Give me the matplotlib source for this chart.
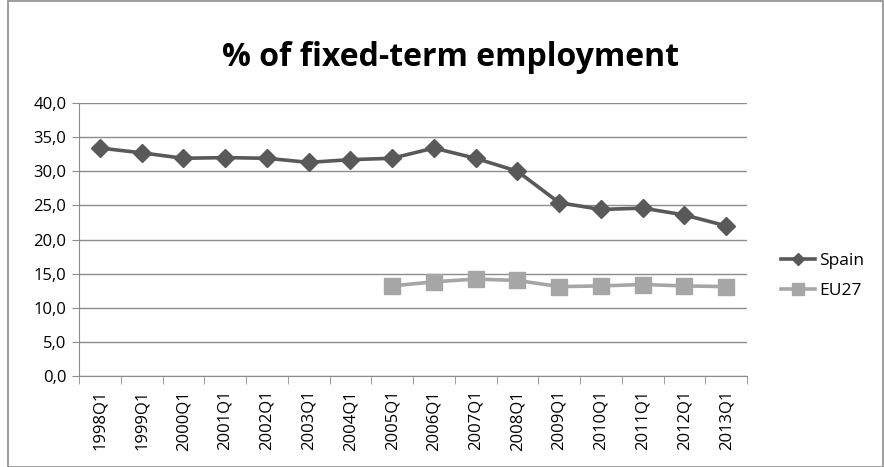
import matplotlib
matplotlib.use("Agg")
import matplotlib.pyplot as plt
from matplotlib.lines import Line2D
from matplotlib.patches import Rectangle
import numpy as np

categories = ["1998Q1", "1999Q1", "2000Q1", "2001Q1", "2002Q1", "2003Q1", "2004Q1", "2005Q1",
              "2006Q1", "2007Q1", "2008Q1", "2009Q1", "2010Q1", "2011Q1", "2012Q1", "2013Q1"]
spain = [33.4, 32.7, 31.9, 32.0, 31.9, 31.3, 31.7, 31.9, 33.4, 31.9, 30.0, 25.4, 24.4, 24.6, 23.6, 22.0]
eu27 = [None] * 7 + [13.2, 13.8, 14.2, 14.0, 13.1, 13.2, 13.4, 13.2, 13.1]
yticks = [0, 5, 10, 15, 20, 25, 30, 35, 40]

plt.rcParams['font.family'] = ['Open Sans', 'DejaVu Sans']
fig = plt.figure(figsize=(8.84, 4.67), dpi=100)
ax = fig.add_axes([79/884, 1-376/467, (747-79)/884, (376-103)/467])

x = np.arange(len(categories))
eu = np.array([np.nan if v is None else v for v in eu27])
ax.plot(x, spain, color="#595959", lw=2.6, marker="D", ms=9, label="Spain", zorder=3)
ax.plot(x, eu, color="#A6A6A6", lw=2.6, marker="s", ms=11, label="EU27", zorder=3)

ax.set_xlim(-0.5, len(categories) - 0.5)
ax.set_ylim(0, 40)
ax.set_yticks(yticks)
ax.set_yticklabels([f"{v:.1f}".replace(".", ",") for v in yticks], fontsize=12)
ax.yaxis.grid(True, color="#8C8C8C", lw=1)
ax.set_axisbelow(True)
ax.set_xticks(x)
ax.set_xticklabels(categories, rotation=90, fontsize=12)
ax.tick_params(axis="x", length=0, pad=10)
ax.set_xticks(np.arange(-0.5, len(categories)), minor=True)
ax.tick_params(axis="x", which="minor", length=6, color="#8C8C8C")
ax.tick_params(axis="y", length=5, color="#8C8C8C", pad=4)
for s in ["top", "right"]:
    ax.spines[s].set_visible(False)
for s in ["left", "bottom"]:
    ax.spines[s].set_color("#8C8C8C")

fig.text(451/884, 1-57/467, "% of fixed-term employment", ha="center", va="center",
         fontsize=23, fontweight="bold")

leg = fig.legend(handles=[Line2D([], [], color="#595959", lw=2.6, marker="D", ms=6, label="Spain"),
                          Line2D([], [], color="#A6A6A6", lw=2.6, marker="s", ms=8, label="EU27")],
                 loc="center left", bbox_to_anchor=(765/884, 1-276/467), frameon=False,
                 fontsize=12.5, handlelength=2.0, handletextpad=0.2, labelspacing=0.8)

fig.patches.append(Rectangle((8/884, 0), 1 - 8/884 - 0.001, 0.998, transform=fig.transFigure,
                             fill=False, edgecolor="#8C8C8C", lw=1.2))
fig.savefig("out.png", dpi=100)
